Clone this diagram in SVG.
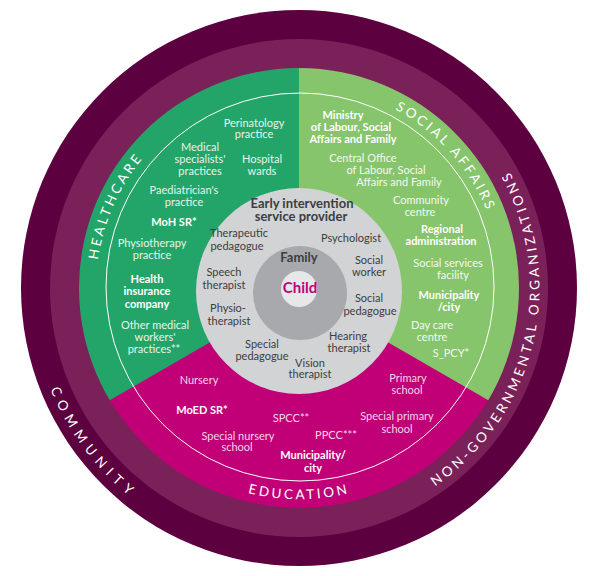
<svg xmlns="http://www.w3.org/2000/svg" width="590" height="576" viewBox="0 0 590 576">
<style>
text{font-family:Lato,"Noto Sans","Liberation Sans",sans-serif;text-anchor:middle}
.t{font-size:11px}
.b{font-size:11px;font-weight:bold;fill:#fff}
.hc{fill:#e6f4ea}
.sa{fill:#f3f9ef}
.ed{fill:#f7d4e7}
.g{fill:#3d3d3f;font-size:11px}
.gb{fill:#3d3d3f;font-size:13px;font-weight:bold}
.ring{font-size:13.5px;fill:#fff;letter-spacing:2.8px}
</style>
<defs>
<clipPath id="disc"><circle cx="299" cy="288" r="220"/></clipPath>
<path id="pHC" d="M103.9 343.9 A203 203 0 0 1 210 105.5"/>
<path id="pSA" d="M327.9 87.1 A203 203 0 0 1 501.9 281.6"/>
<path id="pED" d="M163.4 449.6 A210 210 0 0 0 434.6 449.6"/>
<path id="pCO" d="M37.4 227.6 A268.5 268.5 0 0 0 285 556.1"/>
<path id="pNG" d="M381.3 514 A240.5 240.5 0 0 0 472 120.9"/>
</defs>
<g id="rings">
<circle cx="299" cy="288" r="278" fill="#5c0040"/>
<circle cx="299" cy="288" r="249" fill="#7b2159"/>
</g>
<g id="sectors" clip-path="url(#disc)">
<circle cx="299" cy="288" r="220" fill="#c10078"/>
<polygon points="299,291 299,0 0,0 0,463.6" fill="#23a569"/>
<polygon points="299,291 299,0 590,0 590,459" fill="#86c56c"/>
</g>
<circle id="divider" cx="300" cy="287" r="194" fill="none" stroke="#fff" stroke-width="1"/>
<g id="labels">
<text class="ring"><textPath href="#pHC" startOffset="50%">HEALTHCARE</textPath></text>
<text class="ring"><textPath href="#pSA" startOffset="50%">SOCIAL AFFAIRS</textPath></text>
<text class="ring"><textPath href="#pED" startOffset="50%">EDUCATION</textPath></text>
<text class="ring" style="letter-spacing:6px"><textPath href="#pCO" startOffset="50%">COMMUNITY</textPath></text>
<text class="ring" style="letter-spacing:3.3px"><textPath href="#pNG" startOffset="50%">NON-GOVERNMENTAL ORGANIZATIONS</textPath></text>
</g>
<g id="healthcare">
<text class="t hc" x="254" y="126.5">Perinatology</text>
<text class="t hc" x="254" y="138">practice</text>
<text class="t hc" x="200" y="151">Medical</text>
<text class="t hc" x="200" y="163">specialists'</text>
<text class="t hc" x="200" y="174.5">practices</text>
<text class="t hc" x="262" y="163">Hospital</text>
<text class="t hc" x="262" y="174.5">wards</text>
<text class="t hc" x="184" y="194">Paediatrician's</text>
<text class="t hc" x="184" y="206">practice</text>
<text class="b" x="174" y="226">MoH SR*</text>
<text class="t hc" x="152" y="247">Physiotherapy</text>
<text class="t hc" x="152" y="259">practice</text>
<text class="b" x="147" y="283">Health</text>
<text class="b" x="147" y="295">insurance</text>
<text class="b" x="147" y="307.5">company</text>
<text class="t hc" x="155" y="329">Other medical</text>
<text class="t hc" x="155" y="341">workers'</text>
<text class="t hc" x="154" y="353">practices**</text>
</g>
<g id="social-affairs">
<text class="b" x="343" y="119">Ministry</text>
<text class="b" x="351" y="131">of Labour, Social</text>
<text class="b" x="353" y="142.5">Affairs and Family</text>
<text class="t sa" x="363" y="162">Central Office</text>
<text class="t sa" x="386" y="174">of Labour, Social</text>
<text class="t sa" x="399" y="186">Affairs and Family</text>
<text class="t sa" x="421" y="204">Community</text>
<text class="t sa" x="420" y="216">centre</text>
<text class="b" x="442" y="233">Regional</text>
<text class="b" x="441" y="245">administration</text>
<text class="t sa" x="448" y="267">Social services</text>
<text class="t sa" x="453" y="279">facility</text>
<text class="b" x="449" y="299">Municipality</text>
<text class="b" x="449" y="311">/city</text>
<text class="t sa" x="432" y="329">Day care</text>
<text class="t sa" x="432" y="341">centre</text>
<text class="t sa" x="451" y="357">S_PCY*</text>
</g>
<g id="education">
<text class="t ed" x="199" y="384">Nursery</text>
<text class="t ed" x="408" y="382">Primary</text>
<text class="t ed" x="407" y="394">school</text>
<text class="b" x="202" y="414">MoED SR*</text>
<text class="t ed" x="291" y="422">SPCC**</text>
<text class="t ed" x="397" y="420">Special primary</text>
<text class="t ed" x="397" y="433">school</text>
<text class="t ed" x="238" y="440">Special nursery</text>
<text class="t ed" x="237" y="451">school</text>
<text class="t ed" x="336" y="439">PPCC***</text>
<text class="b" x="313" y="459">Municipality/</text>
<text class="b" x="313" y="472">city</text>
</g>
<g id="provider">
<circle cx="299" cy="291" r="103" fill="#d1d3d4"/>
<text class="gb" x="302" y="208">Early intervention</text>
<text class="gb" x="301" y="221">service provider</text>
<text class="g" x="239" y="237">Therapeutic</text>
<text class="g" x="237" y="250">pedagogue</text>
<text class="g" x="351" y="242">Psychologist</text>
<text class="g" x="369" y="264">Social</text>
<text class="g" x="369" y="276">worker</text>
<text class="g" x="224" y="276">Speech</text>
<text class="g" x="224" y="289">therapist</text>
<text class="g" x="369" y="302">Social</text>
<text class="g" x="370" y="315">pedagogue</text>
<text class="g" x="228" y="312">Physio-</text>
<text class="g" x="229" y="325">therapist</text>
<text class="g" x="348" y="340">Hearing</text>
<text class="g" x="349" y="352">therapist</text>
<text class="g" x="262" y="348">Special</text>
<text class="g" x="262" y="360">pedagogue</text>
<text class="g" x="310" y="367">Vision</text>
<text class="g" x="310" y="378">therapist</text>
</g>
<g id="family">
<circle cx="300" cy="293" r="47" fill="#a7a9ac"/>
<text class="gb" x="299" y="261.5">Family</text>
</g>
<g id="child">
<circle cx="299" cy="289" r="18" fill="#e6e7e8"/>
<text x="300" y="293" font-size="15" font-weight="bold" fill="#c2007a">Child</text>
</g>
<g id="connectors"/>
</svg>
